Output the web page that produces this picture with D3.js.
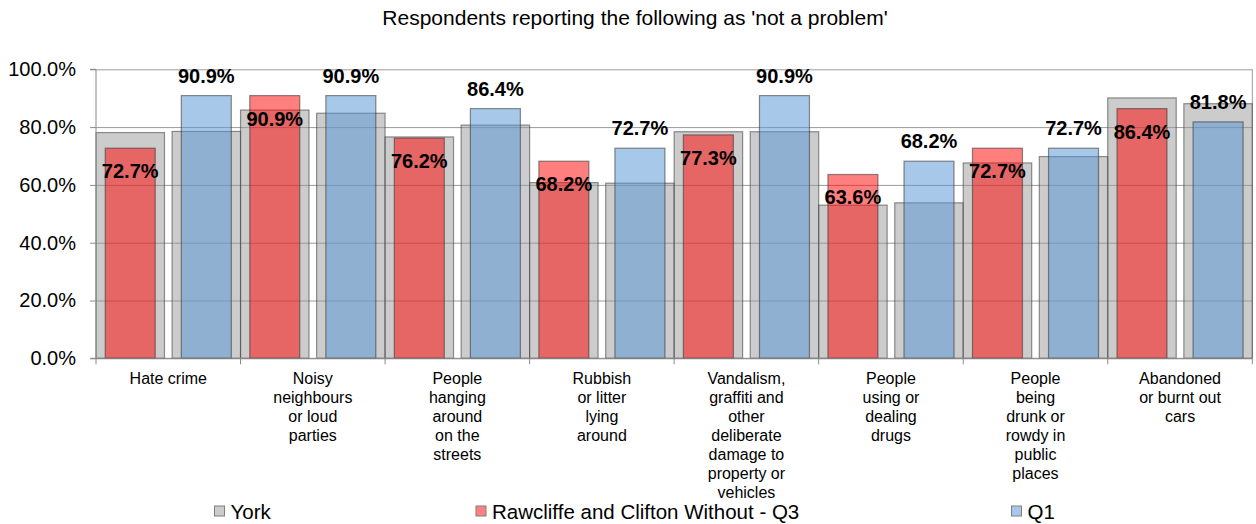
<!DOCTYPE html>
<html>
<head>
<meta charset="utf-8">
<script src="https://cdn.jsdelivr.net/npm/d3@7"></script>
<style>
  html, body { margin: 0; padding: 0; background: #ffffff; }
  svg { display: block; font-family: "Liberation Sans", Arial, sans-serif; }
</style>
</head>
<body>
<svg id="chart" width="1256" height="524"></svg>
<script>
// ---------------- data ----------------
const title = "Respondents reporting the following as 'not a problem'";
const categories = [
  "Hate crime",
  "Noisy\nneighbours\nor loud\nparties",
  "People\nhanging\naround\non the\nstreets",
  "Rubbish\nor litter\nlying\naround",
  "Vandalism,\ngraffiti and\nother\ndeliberate\ndamage to\nproperty or\nvehicles",
  "People\nusing or\ndealing\ndrugs",
  "People\nbeing\ndrunk or\nrowdy in\npublic\nplaces",
  "Abandoned\nor burnt out\ncars"
];
const seriesNames = ["York", "Rawcliffe and Clifton Without - Q3", "Q1"];
const yorkBehindQ3 = [78.1, 85.9, 76.6, 60.8, 78.4, 53.0, 67.6, 90.1];
const yorkBehindQ1 = [78.5, 84.8, 80.7, 60.6, 78.4, 53.8, 69.8, 88.1];
const q3Values = [72.7, 90.9, 76.2, 68.2, 77.3, 63.6, 72.7, 86.4];
const q1Values = [90.9, 90.9, 86.4, 72.7, 90.9, 68.2, 72.7, 81.8];
const yTicks = [0, 20, 40, 60, 80, 100];

// ---------------- layout ----------------
const svg = d3.select("#chart");
const plot = { left: 96, right: 1252.3, top: 69.3, bottom: 358.3 };

const x = d3.scaleBand().domain(categories).range([plot.left, plot.right]).padding(0);
const slot = d3.scaleBand().domain(["q3", "q1"]).range([0, x.bandwidth()]).paddingInner(0.1).paddingOuter(0);
const y = d3.scaleLinear().domain([0, 100]).range([plot.bottom, plot.top]);
const innerW = slot.bandwidth() * 0.73;

const colors = {
  york: "rgba(153,153,153,0.5)",
  q3: "rgba(255,0,0,0.5)",
  q1: "rgba(88,150,212,0.52)"
};
const legendFill = { york: "#cccccc", q3: "#ff8080", q1: "#a9c8e8" };

// title
svg.append("text")
  .attr("x", 635).attr("y", 25)
  .attr("text-anchor", "middle")
  .attr("font-size", 21)
  .attr("fill", "#000")
  .text(title);

// gridlines
const grid = svg.append("g").attr("transform", `translate(${plot.left},0)`)
  .call(d3.axisLeft(y).tickValues(yTicks).tickSize(-(plot.right - plot.left)).tickFormat(""));
grid.select(".domain").remove();
grid.selectAll("line").attr("stroke", "#9a9a9a").attr("stroke-width", 1);

// right border
svg.append("line")
  .attr("x1", plot.right).attr("x2", plot.right)
  .attr("y1", plot.top).attr("y2", plot.bottom)
  .attr("stroke", "#9a9a9a");

// York bars (behind)
const catIdx = categories.map((c, i) => i);
const yorkData = [];
catIdx.forEach(i => {
  yorkData.push({ c: categories[i], s: "q3", v: yorkBehindQ3[i] });
  yorkData.push({ c: categories[i], s: "q1", v: yorkBehindQ1[i] });
});
svg.append("g").selectAll("rect").data(yorkData).join("rect")
  .attr("x", d => x(d.c) + slot(d.s))
  .attr("width", slot.bandwidth())
  .attr("y", d => y(d.v))
  .attr("height", d => y(0) - y(d.v))
  .attr("fill", colors.york)
  .attr("stroke", "rgba(60,60,60,0.55)")
  .attr("stroke-width", 1.2);

// colored bars
const colData = [];
catIdx.forEach(i => {
  colData.push({ c: categories[i], s: "q3", v: q3Values[i] });
  colData.push({ c: categories[i], s: "q1", v: q1Values[i] });
});
const cx = d => x(d.c) + slot(d.s) + slot.bandwidth() / 2;
svg.append("g").selectAll("rect").data(colData).join("rect")
  .attr("x", d => cx(d) - innerW / 2)
  .attr("width", innerW)
  .attr("y", d => y(d.v))
  .attr("height", d => y(0) - y(d.v))
  .attr("fill", d => colors[d.s])
  .attr("stroke", "rgba(50,50,50,0.55)")
  .attr("stroke-width", 1.2);

// y axis
const yAxis = svg.append("g").attr("transform", `translate(${plot.left},0)`)
  .call(d3.axisLeft(y).tickValues(yTicks).tickSize(6).tickPadding(14)
    .tickFormat(d => d3.format(".1f")(d) + "%"));
yAxis.select(".domain").attr("stroke", "#8a8a8a").attr("d", `M-6,${plot.bottom}H0V${plot.top}H-6`);
yAxis.selectAll(".tick line").attr("stroke", "#8a8a8a");
yAxis.selectAll(".tick text").attr("font-size", 20).attr("fill", "#000")
  .attr("font-family", "Liberation Sans, Arial, sans-serif");

// x axis
const xAxis = svg.append("g").attr("transform", `translate(0,${plot.bottom})`)
  .call(d3.axisBottom(x).tickSize(0).tickFormat(""));
xAxis.select(".domain").attr("stroke", "#8a8a8a").attr("d", `M${plot.left},0H${plot.right}`);
// boundary ticks
const bounds = categories.map(c => x(c)).concat([plot.right]);
svg.append("g").selectAll("line").data(bounds).join("line")
  .attr("x1", d => d).attr("x2", d => d)
  .attr("y1", plot.bottom).attr("y2", plot.bottom + 6)
  .attr("stroke", "#8a8a8a");

// category labels
const catLabels = svg.append("g").selectAll("text").data(categories).join("text")
  .attr("text-anchor", "middle")
  .attr("font-size", 16)
  .attr("fill", "#000")
  .attr("transform", d => `translate(${x(d) + x.bandwidth() / 2},${plot.bottom + 26})`);
catLabels.selectAll("tspan").data(d => d.split("\n")).join("tspan")
  .attr("x", 0)
  .attr("dy", (d, i) => i === 0 ? 0 : 18.9)
  .text(d => d);

// data labels
const fmt = v => d3.format(".1f")(v) + "%";
svg.append("g").selectAll("text").data(colData).join("text")
  .attr("x", cx)
  .attr("y", d => d.s === "q3" ? y(d.v) + 30 : y(d.v) - 13)
  .attr("text-anchor", "middle")
  .attr("font-size", 20)
  .attr("font-weight", "bold")
  .attr("fill", "#000")
  .text(d => fmt(d.v));

// legend
const legendKeys = ["york", "q3", "q1"];
const legendX = [214.5, 476, 1011.5];
const lg = svg.append("g").selectAll("g").data(legendKeys).join("g")
  .attr("transform", (d, i) => `translate(${legendX[i]},511)`);
lg.append("rect")
  .attr("x", 0).attr("y", -5).attr("width", 10).attr("height", 10)
  .attr("fill", d => legendFill[d])
  .attr("stroke", "#7f7f7f").attr("stroke-width", 1);
lg.append("text")
  .attr("x", 16).attr("y", 7.5)
  .attr("font-size", 20.5)
  .attr("fill", "#000")
  .text((d, i) => seriesNames[i]);
</script>
</body>
</html>
